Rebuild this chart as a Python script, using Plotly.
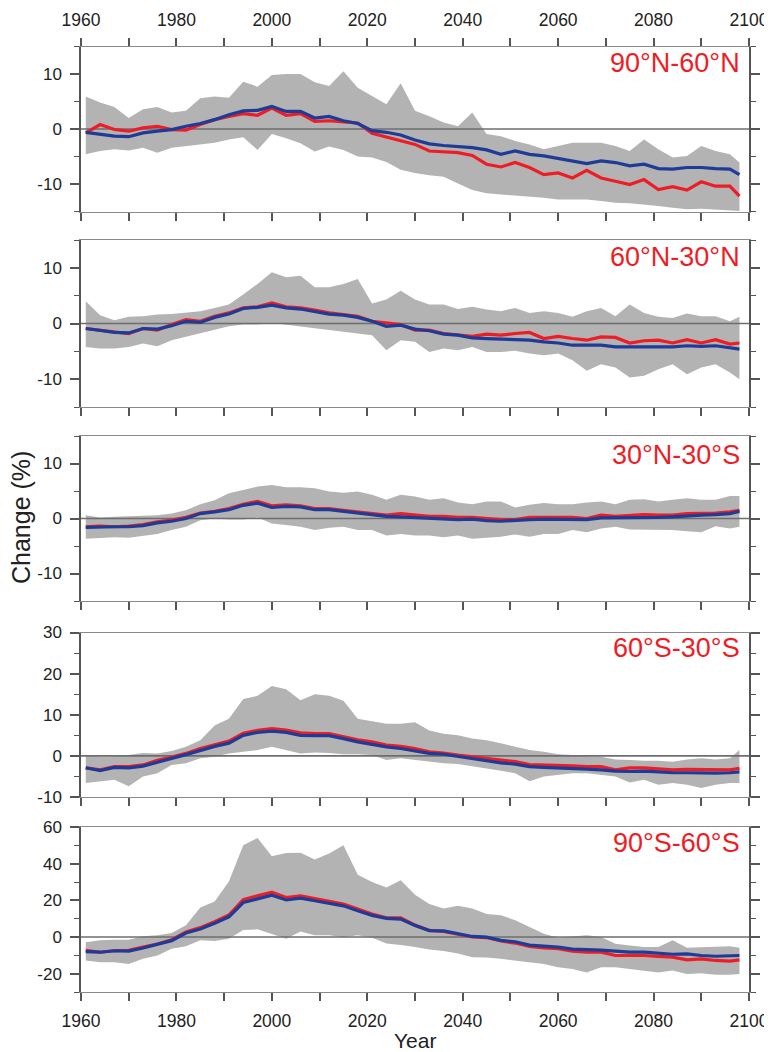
import plotly.graph_objects as go

# ---------------- data ----------------
years = [1961, 1964, 1967, 1970, 1973, 1976, 1979, 1982, 1985, 1988, 1991, 1994, 1997,
         2000, 2003, 2006, 2009, 2012, 2015, 2018, 2021, 2024, 2027, 2030, 2033, 2036,
         2039, 2042, 2045, 2048, 2051, 2054, 2057, 2060, 2063, 2066, 2069, 2072, 2075,
         2078, 2081, 2084, 2087, 2090, 2093, 2096, 2098]

region_labels = ["90°N-60°N", "60°N-30°N", "30°N-30°S", "60°S-30°S", "90°S-60°S"]

# 90N-60N
red_p1 = [-0.7, 0.8, -0.1, -0.4, 0.2, 0.5, -0.1, -0.2, 0.8, 1.7, 2.3, 2.8, 2.5, 3.8, 2.5, 2.8, 1.4, 1.5, 1.3, 1.1,
          -0.8, -1.5, -2.1, -2.8, -4.0, -4.2, -4.3, -4.8, -6.4, -6.9, -6.1, -7.0, -8.3, -8.0, -8.9, -7.5, -8.9,
          -9.5, -10.1, -9.2, -11.0, -10.5, -11.1, -9.6, -10.4, -10.4, -12.2]
blue_p1 = [-0.6, -0.9, -1.3, -1.4, -0.7, -0.4, -0.1, 0.5, 1.0, 1.7, 2.6, 3.3, 3.4, 4.1, 3.2, 3.2, 2.0, 2.3, 1.5, 1.0,
           -0.3, -0.6, -1.1, -2.0, -2.7, -3.0, -3.2, -3.4, -3.8, -4.6, -4.0, -4.6, -4.9, -5.4, -5.8, -6.3, -5.8,
           -6.1, -6.7, -6.4, -7.2, -7.3, -7.0, -7.0, -7.2, -7.3, -8.3]
hi_p1 = [5.9, 4.8, 4.0, 2.0, 3.6, 4.0, 3.0, 3.3, 5.6, 5.9, 5.7, 8.6, 7.7, 9.8, 10.0, 10.0, 8.5, 7.8, 10.5, 7.5,
         6.0, 4.5, 8.3, 3.3, 2.3, 1.2, 0.5, 3.0, -0.9, -1.3, -2.2, -2.8, -3.7, -3.1, -2.5, -2.5, -2.5, -3.1,
         -4.0, -1.9, -3.7, -5.2, -4.9, -3.1, -4.0, -4.6, -6.1]
lo_p1 = [-4.6, -4.0, -3.7, -3.9, -3.4, -4.3, -3.4, -3.1, -2.8, -2.5, -1.9, -1.5, -3.8, -0.9, -1.7, -2.6, -4.1,
         -3.2, -3.8, -5.0, -5.2, -6.0, -7.4, -8.0, -8.4, -8.7, -9.9, -11.1, -11.7, -11.9, -12.0, -12.2, -12.5,
         -12.8, -12.8, -12.8, -13.1, -13.4, -13.5, -13.7, -14.0, -14.3, -14.6, -14.5, -14.6, -14.7, -14.9]

# 60N-30N
red_p2 = [-0.9, -1.2, -1.6, -1.8, -0.9, -1.2, -0.2, 0.7, 0.4, 1.3, 1.9, 2.8, 3.0, 3.7, 3.0, 2.8, 2.4, 1.9, 1.6, 1.3,
          0.4, 0.1, -0.2, -1.2, -1.2, -1.8, -2.1, -2.3, -1.9, -2.1, -1.8, -1.6, -2.7, -2.3, -2.7, -3.0, -2.4,
          -2.5, -3.5, -3.1, -3.0, -3.5, -2.9, -3.5, -2.9, -3.7, -3.5]
blue_p2 = [-0.9, -1.3, -1.6, -1.7, -0.9, -1.0, -0.4, 0.4, 0.2, 1.1, 1.7, 2.7, 2.9, 3.3, 2.8, 2.6, 2.2, 1.7, 1.5, 1.1,
           0.4, -0.5, -0.3, -1.0, -1.3, -1.9, -2.1, -2.6, -2.7, -2.8, -2.9, -3.0, -3.3, -3.5, -3.9, -3.9, -3.9,
           -4.2, -4.2, -4.1, -4.1, -4.2, -4.0, -4.1, -4.0, -4.3, -4.6]
hi_p2 = [4.0, 1.5, 0.6, 1.2, 1.3, 1.6, 1.7, 1.9, 2.2, 2.8, 3.4, 5.2, 7.1, 9.2, 8.3, 8.6, 6.5, 6.5, 7.1, 8.0,
         3.6, 4.3, 5.9, 4.3, 3.4, 3.4, 2.6, 3.0, 2.5, 2.2, 2.8, 1.9, 2.2, 1.9, 1.2, 2.2, 2.8, 1.3, 3.4, 1.9,
         1.2, 1.0, 1.8, 1.3, 1.3, 0.4, 1.2]
lo_p2 = [-4.2, -4.5, -4.5, -4.2, -3.6, -4.1, -3.0, -2.4, -1.8, -1.2, -0.5, -0.2, -0.2, 0.1, -0.2, -0.5, -0.9,
         -1.2, -1.5, -1.8, -2.1, -4.8, -3.0, -3.3, -5.1, -4.5, -4.8, -4.2, -5.1, -5.1, -4.9, -5.4, -5.7, -5.4,
         -6.6, -8.5, -7.3, -7.9, -9.7, -9.4, -8.2, -7.3, -9.1, -7.9, -7.3, -8.8, -10.0]

# 30N-30S
red_p3 = [-1.5, -1.4, -1.5, -1.4, -1.1, -0.6, -0.3, 0.2, 1.0, 1.3, 1.8, 2.6, 3.1, 2.3, 2.5, 2.3, 1.8, 1.8, 1.5, 1.2,
          0.9, 0.6, 0.9, 0.7, 0.4, 0.4, 0.2, 0.2, 0.0, -0.2, -0.2, 0.2, 0.2, 0.2, 0.2, 0.0, 0.6, 0.4, 0.6, 0.7,
          0.6, 0.6, 0.9, 0.9, 1.0, 1.2, 1.5]
blue_p3 = [-1.6, -1.5, -1.5, -1.5, -1.3, -0.8, -0.5, 0.0, 0.9, 1.2, 1.6, 2.4, 2.8, 2.0, 2.2, 2.1, 1.6, 1.6, 1.3, 1.0,
           0.6, 0.4, 0.3, 0.2, 0.1, 0.0, -0.2, -0.1, -0.4, -0.5, -0.3, -0.2, -0.1, -0.1, -0.2, -0.2, 0.1, 0.1,
           0.2, 0.1, 0.2, 0.3, 0.5, 0.6, 0.7, 0.9, 1.3]
hi_p3 = [0.6, 0.2, 0.3, 0.4, 0.4, 0.6, 0.9, 1.5, 2.6, 3.3, 4.6, 5.2, 5.8, 6.1, 5.7, 5.7, 5.5, 4.9, 4.7, 4.9, 4.3,
         3.4, 4.3, 4.0, 3.4, 3.7, 2.9, 2.6, 3.1, 3.1, 2.0, 2.5, 2.8, 2.6, 2.6, 2.9, 3.1, 2.6, 3.4, 3.5, 3.1, 3.4,
         3.7, 3.4, 3.4, 4.1, 4.1]
lo_p3 = [-3.7, -3.5, -3.4, -3.5, -3.1, -2.8, -2.1, -1.5, -0.3, 0.0, -0.2, -0.2, 0.2, -0.9, -1.2, -1.5, -2.1, -1.7,
         -1.5, -2.1, -2.1, -3.1, -2.8, -3.1, -3.1, -3.4, -3.1, -3.7, -3.5, -3.3, -2.9, -3.3, -2.8, -2.8, -2.1,
         -2.5, -1.8, -1.5, -2.0, -2.0, -2.1, -2.1, -2.3, -2.5, -1.4, -1.8, -1.5]

# 60S-30S
red_p4 = [-2.9, -3.4, -2.6, -2.6, -2.2, -1.1, -0.3, 0.6, 1.8, 2.6, 3.6, 5.5, 6.2, 6.6, 6.3, 5.6, 5.4, 5.4, 4.6, 3.9,
          3.4, 2.6, 2.3, 1.8, 1.0, 0.7, 0.2, -0.2, -0.7, -1.0, -1.4, -2.1, -2.2, -2.2, -2.4, -2.6, -2.6, -3.4,
          -2.9, -2.9, -3.1, -3.4, -3.3, -3.3, -3.4, -3.4, -3.0]
blue_p4 = [-2.9, -3.6, -2.8, -2.9, -2.5, -1.5, -0.6, 0.3, 1.4, 2.3, 3.1, 5.0, 5.7, 6.0, 5.7, 5.0, 4.9, 4.9, 4.2, 3.4,
           2.8, 2.2, 1.8, 1.2, 0.6, 0.4, -0.1, -0.6, -1.2, -1.7, -2.0, -2.6, -2.8, -2.9, -3.0, -3.2, -3.4, -3.7,
           -3.8, -3.7, -3.9, -4.1, -4.1, -4.2, -4.2, -4.1, -3.9]
hi_p4 = [0.3, -0.2, -0.1, 0.2, 0.7, 0.6, 1.2, 2.2, 3.8, 7.4, 9.0, 13.8, 14.6, 17.0, 16.2, 13.5, 15.0, 14.6, 13.4,
         9.0, 8.4, 7.8, 7.8, 8.2, 6.2, 5.4, 5.0, 4.2, 3.8, 3.1, 2.2, 1.4, 1.0, 0.4, 0.2, -0.1, -0.2, -0.9, -1.0,
         -1.2, -1.2, -1.4, -0.9, -0.6, -0.9, -0.6, 1.4]
lo_p4 = [-6.6, -6.2, -5.8, -7.4, -5.0, -4.2, -2.2, -1.8, -0.6, -0.2, 0.6, 1.0, 1.4, 2.2, 1.4, 0.6, 0.8, 0.7, 0.4,
         0.4, 0.2, -1.0, -0.6, -1.0, -1.4, -1.8, -2.0, -2.5, -3.0, -3.6, -4.2, -6.2, -5.0, -4.6, -4.2, -4.2, -4.6,
         -5.0, -6.5, -5.8, -7.0, -6.6, -7.0, -7.8, -7.0, -6.6, -6.6]

# 90S-60S
red_p5 = [-7.3, -8.3, -7.5, -7.3, -5.5, -3.8, -1.5, 2.8, 5.1, 8.3, 12.0, 20.3, 22.5, 24.5, 21.5, 22.5, 20.9, 19.6,
          18.0, 15.3, 12.5, 10.5, 10.4, 6.5, 3.6, 3.0, 1.5, 0.0, -0.3, -2.2, -3.3, -5.1, -5.9, -6.4, -7.7, -8.3,
          -8.3, -10.1, -10.1, -10.1, -10.6, -11.0, -12.5, -11.9, -12.8, -13.2, -12.5]
blue_p5 = [-8.0, -8.3, -7.5, -7.7, -6.0, -4.2, -2.0, 2.2, 4.4, 7.5, 11.0, 18.8, 21.0, 22.8, 20.2, 21.2, 19.8, 18.6,
           17.0, 14.3, 11.8, 10.2, 9.8, 6.3, 3.5, 3.3, 1.8, 0.3, -0.1, -1.8, -2.6, -4.4, -5.0, -5.5, -6.6, -6.8,
           -7.2, -7.7, -8.3, -8.3, -8.8, -9.4, -9.2, -10.1, -10.5, -10.1, -10.1]
hi_p5 = [-2.8, -1.8, -1.5, -1.5, 0.4, 0.9, 2.2, 6.4, 16.1, 19.3, 30.3, 50.0, 54.0, 44.0, 45.8, 46.0, 42.3, 45.5,
         50.0, 34.0, 30.0, 27.0, 31.0, 23.0, 18.0, 15.5, 17.0, 15.5, 12.5, 11.9, 9.2, 5.5, 1.8, -0.4, 0.4, 0.9,
         0.0, -3.7, -4.6, -5.5, -5.5, -1.8, -5.9, -5.5, -5.1, -5.1, -5.9]
lo_p5 = [-12.8, -13.8, -13.8, -14.7, -11.9, -10.1, -6.4, -5.1, -1.8, -2.2, -0.9, 3.8, 4.2, 1.8, -1.0, 3.0, 0.9, 0.9,
         -0.2, 0.9, -0.4, -3.6, -4.3, -5.5, -6.8, -7.6, -9.0, -11.0, -11.2, -11.9, -12.8, -13.8, -14.7, -16.5,
         -17.4, -19.3, -16.5, -16.5, -17.4, -18.3, -19.3, -18.3, -20.2, -19.8, -20.6, -20.6, -20.2]

x_tick_vals = [1960, 1970, 1980, 1990, 2000, 2010, 2020, 2030, 2040, 2050, 2060, 2070, 2080, 2090, 2100]
x_tick_text = ["1960", "", "1980", "", "2000", "", "2020", "", "2040", "", "2060", "", "2080", "", "2100"]

y_ranges = [(-15, 15), (-15, 15), (-15, 15), (-10, 30), (-30, 60)]
y_tick_vals = [[-10, 0, 10], [-10, 0, 10], [-10, 0, 10], [-10, 0, 10, 20, 30], [-20, 0, 20, 40, 60]]
y_tick_text = [["-10", "0", "10"], ["-10", "0", "10"], ["-10", "0", "10"],
               ["-10", "0", "10", "20", "30"], ["-20", "0", "20", "40", "60"]]
y_minor = [5, 5, 5, 5, 10]

reds = [red_p1, red_p2, red_p3, red_p4, red_p5]
blues = [blue_p1, blue_p2, blue_p3, blue_p4, blue_p5]
his = [hi_p1, hi_p2, hi_p3, hi_p4, hi_p5]
los = [lo_p1, lo_p2, lo_p3, lo_p4, lo_p5]

# ---------------- style ----------------
# the page body has an 8px margin; positions below are window pixels
OFF = 8
W, H = 772 - OFF, 1052 - OFF
L, R = 81, 749
panel_px = [(46.5, 211.5), (240, 407), (436, 601), (632.5, 797), (827, 992)]
label_center_px = [62.5, 257, 455, 648, 843]
FONT = "Liberation Sans, Arial, Helvetica, sans-serif"
RED = "#ee1d25"
BLUE = "#1f3b98"
BAND = "#b3b3b3"
AXIS = "#555555"


def py(p):
    return 1 - (p - OFF) / H


def px(p):
    return (p - L) / (R - L)


fig = go.Figure()
layout = dict(
    width=W, height=H,
    margin=dict(l=L - OFF, r=772 - R, t=0, b=0, autoexpand=False),
    paper_bgcolor="white", plot_bgcolor="white",
    showlegend=False,
    font=dict(family=FONT, color="#222222"),
)

annotations = []
for i in range(5):
    n = "" if i == 0 else str(i + 1)
    xa, ya = "x" + n, "y" + n
    fig.add_trace(go.Scatter(x=years, y=los[i], mode="lines", line=dict(width=0, color=BAND),
                             xaxis=xa, yaxis=ya, hoverinfo="skip"))
    fig.add_trace(go.Scatter(x=years, y=his[i], mode="lines", line=dict(width=0, color=BAND),
                             fill="tonexty", fillcolor=BAND, xaxis=xa, yaxis=ya, hoverinfo="skip"))
    fig.add_trace(go.Scatter(x=[x_tick_vals[0], x_tick_vals[-1]], y=[0, 0], mode="lines",
                             line=dict(width=1.6, color="#6e6e6e"), xaxis=xa, yaxis=ya, hoverinfo="skip"))
    fig.add_trace(go.Scatter(x=years, y=reds[i], mode="lines", line=dict(width=3.2, color=RED),
                             xaxis=xa, yaxis=ya))
    fig.add_trace(go.Scatter(x=years, y=blues[i], mode="lines", line=dict(width=3.2, color=BLUE),
                             xaxis=xa, yaxis=ya))

    top, bot = panel_px[i]
    dom = [py(bot), py(top)]
    show_lbl = i in (0, 4)
    layout["xaxis" + n] = dict(
        domain=[0, 1], range=[1960, 2100], anchor=ya, automargin=False,
        tickmode="array", tickvals=x_tick_vals, ticktext=x_tick_text,
        showticklabels=show_lbl, side="top" if i == 0 else "bottom",
        ticks="outside", ticklen=8, tickwidth=1.5, tickcolor=AXIS,
        showline=True, linecolor="#8a8a8a", linewidth=1,
        mirror="ticks" if i == 0 else True,
        showgrid=False, zeroline=False,
        tickfont=dict(size=17.5, color="#222222", family=FONT),
        ticklabelstandoff=5,
    )
    layout["yaxis" + n] = dict(
        domain=dom, range=list(y_ranges[i]), anchor=xa, automargin=False,
        tickmode="array", tickvals=y_tick_vals[i], ticktext=y_tick_text[i],
        ticks="outside", ticklen=9, tickwidth=1.5, tickcolor=AXIS,
        showline=True, linecolor=AXIS, linewidth=1.5, mirror="ticks",
        minor=dict(tickmode="linear", dtick=y_minor[i], tick0=0, ticks="outside", ticklen=5,
                   tickwidth=1.2, tickcolor=AXIS, showgrid=False),
        showgrid=False, zeroline=False,
        tickfont=dict(size=17, color="#222222", family=FONT),
        ticklabelstandoff=5,
    )
    annotations.append(dict(
        text=region_labels[i], xref="paper", yref="paper",
        x=px(742), y=py(label_center_px[i]),
        xanchor="right", yanchor="middle", showarrow=False,
        font=dict(size=27, color=RED, family=FONT)))

annotations.append(dict(text="Change (%)", xref="paper", yref="paper",
                        x=px(21), y=py(518), textangle=-90,
                        xanchor="center", yanchor="middle", showarrow=False,
                        font=dict(size=25, color="#222222", family=FONT)))
annotations.append(dict(text="Year", xref="paper", yref="paper",
                        x=0.5, y=py(1040), xanchor="center", yanchor="middle",
                        showarrow=False, font=dict(size=21, color="#222222", family=FONT)))
layout["annotations"] = annotations

fig.update_layout(**layout)
fig.write_html("out.html")
